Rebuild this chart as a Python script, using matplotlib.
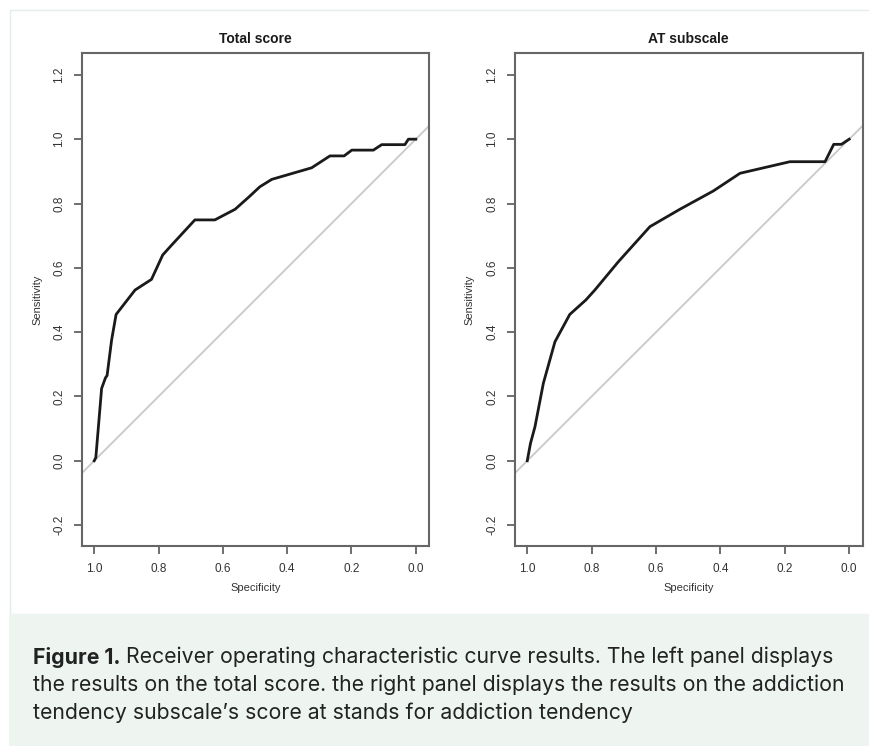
import matplotlib
matplotlib.use("Agg")
import matplotlib.pyplot as plt
from matplotlib.patches import Rectangle

# ---- data ----
titles = ["Total score", "AT subscale"]
total_spec = [1.0, 0.995, 0.977, 0.965, 0.960, 0.946, 0.932, 0.873, 0.822, 0.787, 0.759,
              0.687, 0.625, 0.562, 0.516, 0.485, 0.448, 0.324, 0.267, 0.223, 0.199, 0.132,
              0.106, 0.034, 0.023, 0.0]
total_sens = [0.0, 0.010, 0.225, 0.258, 0.265, 0.375, 0.455, 0.531, 0.564, 0.640, 0.671,
              0.749, 0.749, 0.782, 0.823, 0.852, 0.875, 0.911, 0.948, 0.948, 0.966, 0.966,
              0.983, 0.983, 1.0, 1.0]
at_spec = [1.0, 0.990, 0.976, 0.950, 0.914, 0.868, 0.818, 0.790, 0.717, 0.619, 0.526,
           0.422, 0.339, 0.184, 0.075, 0.048, 0.024, 0.0]
at_sens = [0.0, 0.054, 0.106, 0.241, 0.370, 0.455, 0.500, 0.531, 0.619, 0.728, 0.782,
           0.839, 0.894, 0.930, 0.930, 0.984, 0.984, 1.0]
x_ticks = [1.0, 0.8, 0.6, 0.4, 0.2, 0.0]
y_ticks = [-0.2, 0.0, 0.2, 0.4, 0.6, 0.8, 1.0, 1.2]
caption_bold = "Figure 1."
caption_lines = [
    " Receiver operating characteristic curve results. The left panel displays",
    "the results on the total score. the right panel displays the results on the addiction",
    "tendency subscale\u2019s score at stands for addiction tendency",
]

W, H = 870, 746
fig = plt.figure(figsize=(W / 100, H / 100), dpi=100)
fig.patch.set_facecolor("white")

def fx(px):
    return px / W

def fy(py):
    return 1 - py / H

# background panels
fig.add_artist(Rectangle((fx(10), fy(614)), fx(870) - fx(10), fy(10) - fy(614),
                         transform=fig.transFigure, facecolor="white",
                         edgecolor="#E4EEEA", linewidth=1, zorder=0))
fig.add_artist(Rectangle((fx(9), 0), 1 - fx(9), fy(614),
                         transform=fig.transFigure, facecolor="#EEF5F1",
                         edgecolor="none", zorder=0))

plt.rcParams["font.family"] = ["Liberation Sans", "DejaVu Sans"]

panels = [
    (82, 429, (1.038, -0.041), total_spec, total_sens),
    (514.7, 862.7, (1.039, -0.042), at_spec, at_sens),
]
top, bottom = 53, 546
for (l, r, xl, sp, se), title in zip(panels, titles):
    ax = fig.add_axes([fx(l), fy(bottom), fx(r) - fx(l), (bottom - top) / H])
    ax.set_xlim(*xl)
    ax.set_ylim(-0.265, 1.268)
    ax.axline((1, 0), (0, 1), color="#C8C8C8", linewidth=1.3, zorder=1)
    ax.plot(sp, se, color="#1a1a1a", linewidth=2.0, zorder=2)
    ax.set_xticks(x_ticks)
    ax.set_xticklabels([f"{t:.1f}" for t in x_ticks])
    ax.set_yticks(y_ticks)
    ax.set_yticklabels([f"{t:.1f}" for t in y_ticks], rotation=90, va="center")
    ax.tick_params(direction="out", length=6, width=1.2, color="#555555",
                   labelcolor="#333333", labelsize=8.5, pad=6)
    for s in ax.spines.values():
        s.set_color("#666666")
        s.set_linewidth(1.5)
    ax.set_xlabel("Specificity", fontsize=8, color="#333333", labelpad=6)
    ax.set_ylabel("Sensitivity", fontsize=8, color="#333333", labelpad=8)
    ax.set_title(title, fontsize=10, fontweight="bold", color="#1a1a1a", pad=7)

# caption
fig.canvas.draw()
renderer = fig.canvas.get_renderer()
cap_font = ["Inter", "DejaVu Sans"]
fs = 15.3
t0 = fig.text(fx(33), fy(657), caption_bold, fontsize=fs, fontweight="bold",
              family=cap_font, color="#222222", va="center", ha="left")
bb = t0.get_window_extent(renderer)
fig.text(bb.x1 / W, fy(657), caption_lines[0], fontsize=fs, family=cap_font,
         color="#222222", va="center", ha="left")
for i, line in enumerate(caption_lines[1:]):
    fig.text(fx(33), fy(685 + 28 * i), line, fontsize=fs, family=cap_font,
             color="#222222", va="center", ha="left")

fig.savefig("out.png", dpi=100)
